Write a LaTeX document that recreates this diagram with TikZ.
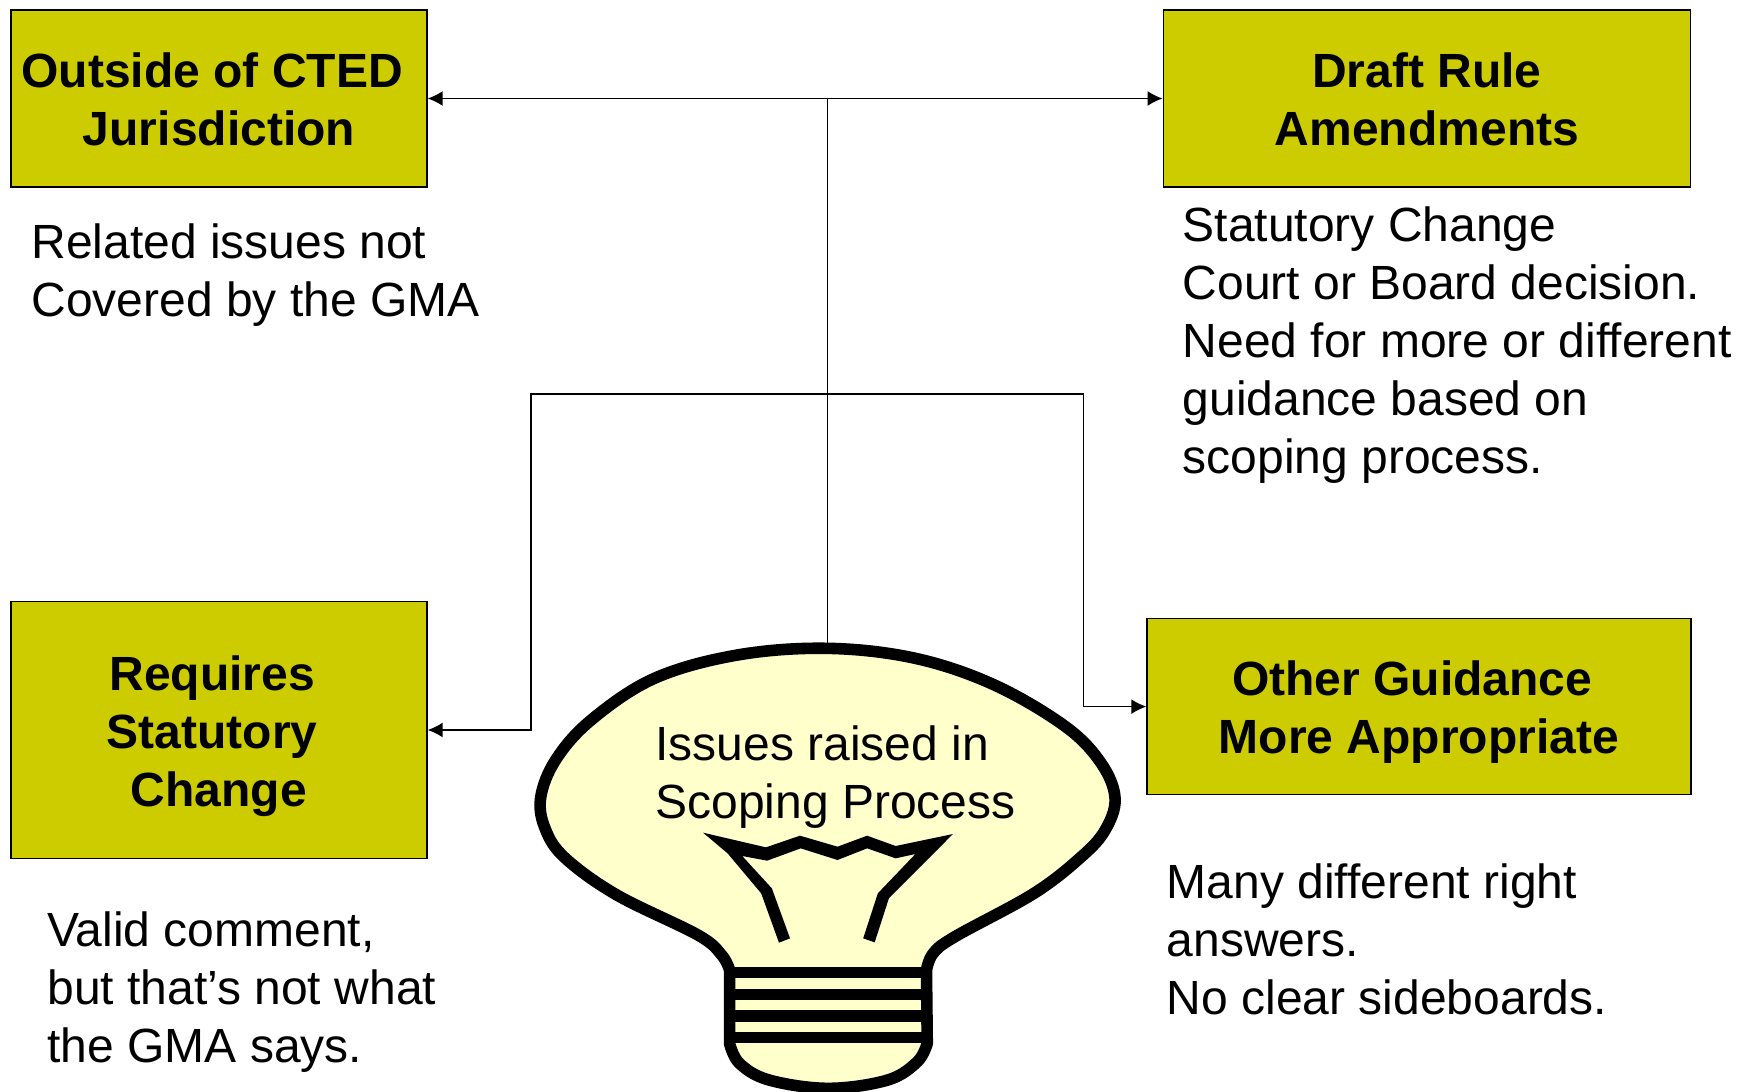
\documentclass[tikz,border=0pt]{standalone}
\usepackage{fontspec}
\setmainfont{Liberation Sans}
\usetikzlibrary{arrows.meta}
\definecolor{boxfill}{HTML}{CCCC00}
\definecolor{bulbfill}{HTML}{FFFFCC}
\newcommand{\tsp}{\kern6.7pt\relax}
\newcommand{\tpl}{\rule{0pt}{18pt}}
\tikzset{
  txt/.style={font=\fontsize{24}{29}\selectfont},
  box/.style={draw=black,fill=boxfill,line width=0.65pt,inner sep=0pt,align=center,
    font=\fontsize{24}{29}\selectfont\bfseries},
  body/.style={txt,anchor=base west,inner sep=0pt},
  conn/.style={line width=0.8pt,draw=black,line join=miter},
  tip/.style={-{Latex[length=7.5pt,width=7.5pt]}},
  tips/.style={{Latex[length=7.5pt,width=7.5pt]}-{Latex[length=7.5pt,width=7.5pt]}},
  bulbline/.style={line width=5.8pt,draw=black,line join=round},
}
\newcommand{\lines}[1]{\begin{tabular}[t]{@{}l@{}}#1\end{tabular}}
\begin{document}
\begin{tikzpicture}[x=0.5pt,y=-0.5pt]
\useasboundingbox (0,0) rectangle (1747,1092);
% boxes
\node[box,minimum width=208pt,minimum height=88.5pt] (b1) at (219,98.5) {\tpl Outside of CTED\tsp\\\smash{Jurisdiction}};
\node[box,minimum width=263.8pt,minimum height=88.5pt] (b2) at (1427,98.5) {\tpl Draft Rule\\\smash{Amendments}};
\node[box,minimum width=208pt,minimum height=128.5pt] (b3) at (219,730) {\tpl Requires\tsp\\Statutory\tsp\\\smash{Change}};
\node[box,minimum width=272pt,minimum height=88pt] (b4) at (1419,706.6) {\tpl Other Guidance\tsp\\\smash{More Appropriate}};
% connector points
\coordinate (bulbtop) at (827.6,650);
\coordinate (junction) at (827.6,394);
\coordinate (left) at (531,394);
\coordinate (right) at (1083.5,394);
% connectors
\draw[conn,tips] (b1.east) -- (b2.west);
\draw[conn] (bulbtop) -- (b1.east -| bulbtop);
\draw[conn,tip] (junction) -- (left) -- (left |- b3.east) -- (b3.east);
\draw[conn,tip] (junction) -- (right) -- (right |- b4.west) -- (b4.west);
% bulb
\begin{scope}[shift={(520,630)},x=0.1977pt,y=-0.16667pt]
\draw[bulbline,fill=bulbfill]
  plot[smooth,tension=0.6] coordinates {(530,1020) (510,975) (450,915) (245,795) (115,685) (65,600) (52,505) (90,390) (180,270) (340,145) (550,75) (778,55) (1000,85) (1200,165) (1380,290) (1470,400) (1505,505) (1480,600) (1420,680) (1300,790) (1100,920) (1045,970) (1028,1020)}
  -- plot[smooth,tension=0.6] coordinates {(1030,1240) (1005,1295) (930,1350) (780,1375) (630,1350) (555,1300) (530,1240)}
  -- cycle;
\foreach \yy in {1027,1093,1158,1222}
  \draw[black,line width=5.8pt] (530,\yy) -- (1028,\yy);
\fill[black] (655,938) -- (683,925) -- (637,775) -- (562,678) -- (625,692) -- (710,655) -- (803,690) -- (878,655) -- (950,685) -- (1000,672) -- (905,790) -- (868,925) -- (897,937) -- (933,805) -- (1095,612) -- (950,648) -- (878,617) -- (803,650) -- (708,617) -- (622,652) -- (463,608) -- (525,670) -- (610,790) -- cycle;
\end{scope}
% texts
\node[body] (t1) at (31,258.3) {\lines{Related issues not\\Covered by the GMA}};
\node[body] (t2) at (1182.3,241.3) {\lines{Statutory Change\\Court or Board decision.\\Need for more or different\\guidance based on\\scoping process.}};
\node[body] (t3) at (47,946) {\lines{Valid comment,\\but that’s not what\\the GMA says.}};
\node[body] (t4) at (1166.5,898) {\lines{Many different right\\answers.\\No clear sideboards.}};
\node[body] (t5) at (655,760) {\lines{Issues raised in\\Scoping Process}};
\end{tikzpicture}
\end{document}
